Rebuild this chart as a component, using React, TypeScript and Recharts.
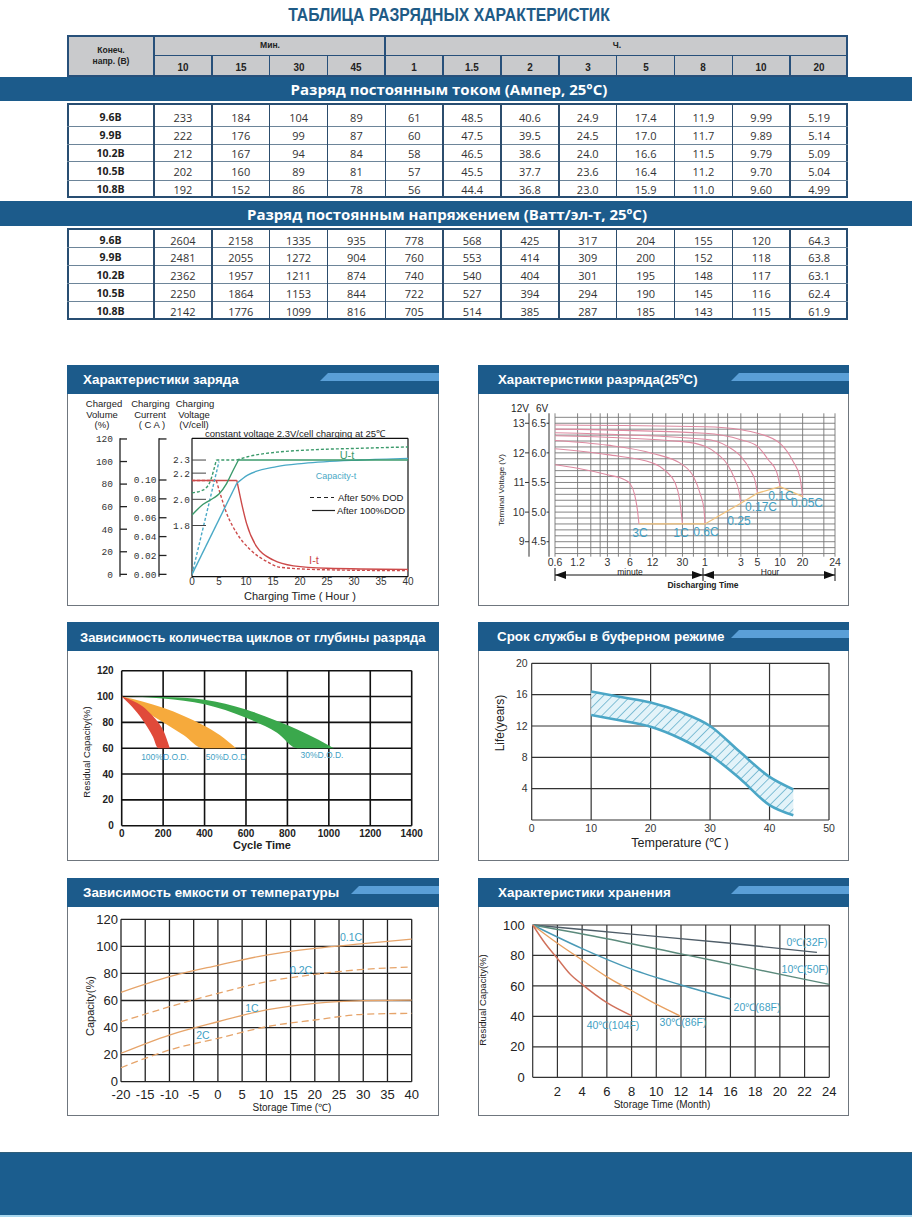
import React from "react";
import { ComposedChart, Line, Area, XAxis, YAxis, CartesianGrid } from "recharts";

type Pt = number[];

const SANS = "'Liberation Sans', Arial, Helvetica, sans-serif";
const OPEN = "'Open Sans', 'Liberation Sans', sans-serif";
const NARROW = "'Liberation Sans Narrow', 'Liberation Sans', sans-serif";
const MONO = "'Liberation Mono', 'DejaVu Sans Mono', monospace";

const NAVY = "#1c5b8b";
const STRIPE = "#5a9fd7";
const CAPTION = "#3f9fc4";

// ---------- discharge table ----------
const minuteCols = ["10", "15", "30", "45"];
const hourCols = ["1", "1.5", "2", "3", "5", "8", "10", "20"];
const endVoltages = ["9.6В", "9.9В", "10.2В", "10.5В", "10.8В"];
const currentRows = [
  ["233", "184", "104", "89", "61", "48.5", "40.6", "24.9", "17.4", "11.9", "9.99", "5.19"],
  ["222", "176", "99", "87", "60", "47.5", "39.5", "24.5", "17.0", "11.7", "9.89", "5.14"],
  ["212", "167", "94", "84", "58", "46.5", "38.6", "24.0", "16.6", "11.5", "9.79", "5.09"],
  ["202", "160", "89", "81", "57", "45.5", "37.7", "23.6", "16.4", "11.2", "9.70", "5.04"],
  ["192", "152", "86", "78", "56", "44.4", "36.8", "23.0", "15.9", "11.0", "9.60", "4.99"],
];
const powerRows = [
  ["2604", "2158", "1335", "935", "778", "568", "425", "317", "204", "155", "120", "64.3"],
  ["2481", "2055", "1272", "904", "760", "553", "414", "309", "200", "152", "118", "63.8"],
  ["2362", "1957", "1211", "874", "740", "540", "404", "301", "195", "148", "117", "63.1"],
  ["2250", "1864", "1153", "844", "722", "527", "394", "294", "190", "145", "116", "62.4"],
  ["2142", "1776", "1099", "816", "705", "514", "385", "287", "185", "143", "115", "61.9"],
];

// ---------- charging (x = hours) ----------
const chgHourTicks = [0, 5, 10, 15, 20, 25, 30, 35, 40];
const chgVoltage100: Pt[][] = [
  [[0, 1.88], [2, 1.96], [4, 2.01], [5, 2.04], [6.4, 2.12], [7.6, 2.22], [8.6, 2.3]],
  [[8.6, 2.3], [40, 2.3]],
];
const chgVoltage50: Pt[][] = [
  [[0, 2.05], [2, 2.07], [3.3, 2.13], [4, 2.22], [4.5, 2.3]],
  [[4.5, 2.3], [8.3, 2.3]],
  [[8.3, 2.3], [10.3, 2.325], [15.7, 2.36], [20.7, 2.375], [31.3, 2.39], [40, 2.4]],
];
const chgCapacity100: Pt[][] = [
  [[0, 0], [8.3, 80.7]],
  [[8.3, 80.7], [10.3, 88], [15.7, 95.5], [20.7, 98.4], [31.3, 101.4], [40, 102.8]],
];
const chgCapacity50: Pt[][] = [[[0, 0], [5, 100]]];
const chgCurrent100: Pt[][] = [
  [[0, 0.0995], [8.3, 0.0995]],
  [[8.3, 0.0995], [9.2, 0.075], [10.1, 0.054], [12, 0.029], [15.1, 0.015], [18.8, 0.009], [25, 0.0065], [40, 0.0053]],
];
const chgCurrent50: Pt[][] = [
  [[0, 0.0995], [4.5, 0.0995]],
  [[4.5, 0.0995], [5.2, 0.086], [6.4, 0.065], [8.3, 0.0435], [10.8, 0.026], [13.9, 0.0135], [16.4, 0.0074], [25, 0.0048], [40, 0.0039]],
];
const VOL_DOMAIN = [-2.1, 120.6];
const CUR_DOMAIN = [-0.0025, 0.1442];
const VOLT_DOMAIN = [1.409, 2.466];

// ---------- discharge (x = minutes, y = volts per 6V block) ----------
const DIS_MAX = 3240;
const disTicks = [0.6, 1.2, 3, 6, 12, 30, 60, 180, 300, 600, 1200, DIS_MAX];
const disTickLabels = ["0.6", "1.2", "3", "6", "12", "30", "1", "3", "5", "10", "20", "24"];
const disGridX = [0.6, 1.2, 1.8, 2.4, 3, 4.2, 6, 12, 18, 30, 42, 60, 90, 120, 180, 300, 600, 1200, 2300, DIS_MAX];
const disGridY = [4.3, 4.4, 4.5, 4.6, 4.7, 4.8, 4.9, 5.0, 5.1, 5.2, 5.3, 5.4, 5.5, 5.6, 5.7, 5.8, 5.9, 6.0, 6.1, 6.2, 6.3, 6.4, 6.5, 6.6];
const dis3C: Pt[] = [[0.6, 5.8], [1.2, 5.74], [3, 5.63], [5, 5.55], [6, 5.48], [6.9, 5.3], [7.5, 5.05], [7.9, 4.8]];
const dis1C: Pt[] = [[0.6, 6.07], [3, 5.97], [12, 5.83], [18, 5.69], [24, 5.49], [27.5, 5.21], [30, 4.8]];
const dis06C: Pt[] = [[0.6, 6.21], [3, 6.13], [12, 5.99], [30, 5.8], [42, 5.6], [52, 5.3], [58, 5.05], [60, 4.8]];
const dis025C: Pt[] = [[0.6, 6.29], [30, 6.19], [60, 6.11], [90, 5.97], [120, 5.8], [150, 5.55], [170, 5.35], [180, 5.15]];
const dis017C: Pt[] = [[0.6, 6.34], [60, 6.23], [120, 6.11], [180, 5.94], [240, 5.71], [280, 5.52], [300, 5.32]];
const dis01C: Pt[] = [[0.6, 6.4], [60, 6.33], [180, 6.22], [300, 6.11], [420, 5.88], [540, 5.68], [600, 5.43]];
const dis005C: Pt[] = [[0.6, 6.47], [60, 6.44], [180, 6.39], [300, 6.33], [600, 6.16], [900, 5.85], [1100, 5.6], [1200, 5.26]];
const disCutoff: Pt[] = [[7.9, 4.8], [60, 4.8], [180, 5.15], [300, 5.32], [600, 5.43], [1200, 5.26]];
const V6_DOMAIN = [4.247, 6.668];
const V12_DOMAIN = [8.494, 13.336];

// ---------- cycle life: [cycles, low, high] ----------
const cycleTicks = [0, 200, 400, 600, 800, 1000, 1200, 1400];
const cycleDod100: Pt[] = [[0, 100, 100], [50, 92, 97], [100, 82, 92.5], [150, 69, 85], [176, 60, 80], [200, 60, 74], [232, 60, 60]];
const cycleDod50: Pt[] = [[0, 100, 100], [100, 90, 96.2], [200, 80, 91.3], [300, 70, 85], [392, 60, 78], [475, 60, 70], [552, 60, 60]];
const cycleDod30: Pt[] = [[0, 100, 100], [200, 98.5, 99.6], [400, 94, 97.6], [600, 83.5, 90], [750, 72, 81], [848, 60, 74.5], [950, 60, 66.5], [1024, 60, 60]];

// ---------- float life: [°C, low, high] ----------
const lifeBand: Pt[] = [[10, 13.4, 16.4], [15, 12.7, 15.7], [20, 11.9, 15], [25, 10.4, 13.8], [30, 8.3, 12], [35, 5.3, 8.7], [40, 1.9, 5.5], [44, 0.6, 3.9]];

// ---------- capacity vs temperature ----------
const tempC = [-20, -10, 0, 10, 20, 30, 40];
const cap01C = [66, 77.6, 86, 93.6, 98.5, 102, 105.4];
const cap02C = [44.3, 55.4, 65.3, 73.9, 79.3, 83, 84.7];
const cap1C = [21, 34.5, 44.3, 53, 57.9, 59.9, 60.3];
const cap2C = [10.3, 23.4, 32, 40.6, 45.6, 49.8, 50.5];

// ---------- storage (x = months) ----------
const stor0: Pt[] = [[0, 100], [8, 94], [16, 88], [23, 82]];
const stor10: Pt[] = [[0, 100], [6, 91], [12, 81], [18, 71], [24, 61]];
const stor20: Pt[] = [[0, 100], [4, 84.5], [8, 71], [12, 60.6], [16, 51.4]];
const stor30: Pt[] = [[0, 100], [2, 88], [4, 77], [6, 66], [8, 57], [10, 48], [12, 40]];
const stor40: Pt[] = [[0, 100], [1, 88], [2, 78], [3, 68], [4, 61], [6, 49], [8, 40.5]];

const xy = (pts: Pt[]) => pts.map(([x, y]) => ({ x, y }));
const band = (pts: Pt[]) => pts.map(([x, lo, hi]) => ({ x, r: [lo, hi] }));
const zip = (xs: number[], ys: number[]) => xs.map((x, i) => ({ x, y: ys[i] }));

const noAnim = { dot: false, activeDot: false, isAnimationActive: false } as const;

function T({ x, y, s = 10, c = "#222", a = "middle", w = 400, f = SANS, r = 0, sx = 1, children }: any) {
  const tx = a === "middle" ? "-50%" : a === "end" ? "-100%" : "0";
  return (
    <div
      style={{
        position: "absolute", left: x, top: y,
        transform: `translate(${tx}, -50%)${r ? ` rotate(${r}deg)` : ""}${sx !== 1 ? ` scaleX(${sx})` : ""}`,
        fontSize: s, color: c, fontWeight: w, fontFamily: f,
        whiteSpace: "nowrap", lineHeight: 1,
      }}
    >
      {children}
    </div>
  );
}

function Rule({ x, y, w, h, c }: any) {
  return <div style={{ position: "absolute", left: x, top: y, width: w, height: h, background: c }} />;
}

// table geometry
const T0 = 67, T1 = 154, TR = 848;
const CW = (TR - T1) / 12;
const cx = (i: number) => T1 + i * CW;
const sec1 = [103.3, 126, 144, 161.7, 180, 197.7];
const sec2 = [228.3, 247.7, 265.7, 283.3, 301.7, 320];

function Section({ bounds, rows }: { bounds: number[]; rows: string[][] }) {
  const top = bounds[0];
  const bottom = bounds[bounds.length - 1];
  return (
    <>
      <div style={{ position: "absolute", left: T0, top, width: TR - T0, height: bottom - top, background: "#fff", boxSizing: "border-box", border: "2px solid #284e72" }} />
      {bounds.slice(1, -1).map((y) => <Rule key={y} x={T0} y={y - 0.5} w={TR - T0} h={1} c="#6d8599" />)}
      {[T1, ...Array.from({ length: 11 }, (_, i) => cx(i + 1))].map((x) => (
        <Rule key={x} x={x - 0.75} y={top} w={1.5} h={bottom - top} c="#2c4d6d" />
      ))}
      {rows.map((r, i) => {
        const cy = (bounds[i] + bounds[i + 1]) / 2 + (i === 0 ? 2 : 0);
        return (
          <React.Fragment key={i}>
            <T x={(T0 + T1) / 2} y={cy} s={10.5} w={700} f={OPEN}>{endVoltages[i]}</T>
            {r.map((v, j) => <T key={j} x={cx(j) + CW / 2} y={cy} s={11} f={OPEN} c="#333">{v}</T>)}
          </React.Fragment>
        );
      })}
    </>
  );
}

function Table() {
  const headCols = [...minuteCols, ...hourCols];
  return (
    <>
      <T x={449} y={14} s={19} w={700} f={NARROW} c="#1f5b86" sx={0.83}>ТАБЛИЦА РАЗРЯДНЫХ ХАРАКТЕРИСТИК</T>
      <div style={{ position: "absolute", left: T0, top: 35, width: TR - T0, height: 42, background: "#c9cacc", boxSizing: "border-box", border: "2px solid #27507a" }} />
      <Rule x={T1 - 1} y={35} w={2} h={42} c="#27507a" />
      <Rule x={cx(4) - 1} y={35} w={2} h={42} c="#27507a" />
      <Rule x={T1} y={54.5} w={TR - T1} h={1.5} c="#27507a" />
      {headCols.map((_, i) => (i > 0 && i !== 4 ? <Rule key={i} x={cx(i) - 0.75} y={55} w={1.5} h={22} c="#27507a" /> : null))}
      <T x={(T0 + T1) / 2} y={50} s={9.5} w={700} f={NARROW} sx={0.9}>Конеч.</T>
      <T x={(T0 + T1) / 2} y={61} s={9.5} w={700} f={NARROW} sx={0.9}>напр. (В)</T>
      <T x={(cx(0) + cx(4)) / 2} y={44.5} s={9.5} w={700} f={NARROW} sx={0.9}>Мин.</T>
      <T x={(cx(4) + TR) / 2} y={44.5} s={9.5} w={700} f={NARROW} sx={0.9}>Ч.</T>
      {headCols.map((c, i) => <T key={c + i} x={cx(i) + CW / 2} y={66.5} s={11} w={700} f={NARROW} c="#222" sx={0.9}>{c}</T>)}
      <Rule x={0} y={76.5} w={912} h={24} c={NAVY} />
      <T x={449} y={88.5} s={15} w={700} f={OPEN} c="#fff">Разряд постоянным током (Ампер, 25°C)</T>
      <Section bounds={sec1} rows={currentRows} />
      <Rule x={0} y={201} w={912} h={24.7} c={NAVY} />
      <T x={447} y={213.5} s={15} w={700} f={OPEN} c="#fff">Разряд постоянным напряжением (Ватт/эл-т, 25ºC)</T>
      <Section bounds={sec2} rows={powerRows} />
    </>
  );
}

function Panel({ x, y, w, h, title, titleX, size = 13.4, stripe }: any) {
  return (
    <div style={{ position: "absolute", left: x, top: y, width: w, height: h, boxSizing: "border-box", border: "1px solid #6f767e", background: "#fff" }}>
      <div style={{ position: "absolute", left: -1, top: -1, width: w, height: 28.5, background: NAVY, overflow: "hidden" }}>
        {stripe !== undefined && (
          <div style={{ position: "absolute", left: stripe - x, top: 7.7, width: w, height: 8, background: STRIPE, transform: "skewX(-45deg)", transformOrigin: "0 100%" }} />
        )}
        <div style={{ position: "absolute", left: titleX, top: 14.5, transform: "translateY(-50%)", color: "#fff", fontFamily: SANS, fontWeight: 700, fontSize: size, whiteSpace: "nowrap", lineHeight: 1 }}>
          {title}
        </div>
      </div>
    </div>
  );
}

const GREEN = "#3b9a6b";
const TEAL = "#4aa9c6";
const RED = "#cc4a4a";

// left y-axes are stacked by id: "a_" sits next to the plot, "c_" furthest out
function ChargeChart() {
  const mono = { fontSize: 9.5, fill: "#333", fontFamily: MONO };
  const seg = (segs: Pt[][], axis: string, color: string, dash: string | undefined, name: string) =>
    segs.map((s, i) => (
      <Line key={name + i} yAxisId={axis} data={xy(s)} dataKey="y" type={s.length > 2 ? "monotone" : "linear"}
        stroke={color} strokeWidth={1.4} strokeDasharray={dash} {...noAnim} />
    ));
  return (
    <div style={{ position: "absolute", left: 67, top: 430 }}>
      <ComposedChart width={352} height={166} margin={{ top: 8.3, right: 11, bottom: 0, left: 0 }}>
        <CartesianGrid yAxisId="c_vol" verticalValues={[0, 40]} horizontalValues={VOL_DOMAIN} stroke="#111" strokeWidth={1.2} />
        <XAxis type="number" dataKey="x" domain={[0, 40]} ticks={chgHourTicks} interval={0} height={19.3}
          axisLine={false} tickLine={false} tickSize={0} tickMargin={1.5} allowDataOverflow
          tick={{ fontSize: 10, fill: "#333", fontFamily: SANS }} />
        <YAxis yAxisId="a_volt" type="number" width={33} domain={VOLT_DOMAIN} ticks={[1.8, 2.0, 2.2, 2.3]} interval={0}
          allowDataOverflow axisLine={false} tickLine={{ stroke: "#444" }} tickSize={-14} tickMargin={16}
          tick={mono} tickFormatter={(v: number) => v.toFixed(1)} />
        <YAxis yAxisId="b_cur" type="number" width={39} domain={CUR_DOMAIN} ticks={[0, 0.02, 0.04, 0.06, 0.08, 0.1, 0.1435]}
          interval={0} allowDataOverflow axisLine={{ stroke: "#222", strokeWidth: 1.3 }} tickLine={{ stroke: "#222", strokeWidth: 1.3 }}
          tickSize={-7.5} tickMargin={10} tick={mono} tickFormatter={(v: number) => (v > 0.11 ? "" : v.toFixed(2))} />
        <YAxis yAxisId="c_vol" type="number" width={53} domain={VOL_DOMAIN} ticks={[0, 20, 40, 60, 80, 100, 120]}
          interval={0} allowDataOverflow axisLine={{ stroke: "#222", strokeWidth: 1.3 }} tickLine={{ stroke: "#222", strokeWidth: 1.3 }}
          tickSize={-7} tickMargin={14} tick={mono} />
        {seg(chgCurrent50, "b_cur", RED, "3 2", "i50")}
        {seg(chgCurrent100, "b_cur", RED, undefined, "i100")}
        {seg(chgCapacity50, "c_vol", TEAL, "3 2", "c50")}
        {seg(chgCapacity100, "c_vol", TEAL, undefined, "c100")}
        {seg(chgVoltage50, "a_volt", GREEN, "3 2", "u50")}
        {seg(chgVoltage100, "a_volt", GREEN, undefined, "u100")}
      </ComposedChart>
    </div>
  );
}

const PINK = "#de8aa1";

function DischargeChart() {
  const tick = { fontSize: 10.5, fill: "#333", fontFamily: SANS };
  const curves = [dis3C, dis1C, dis06C, dis025C, dis017C, dis01C, dis005C];
  return (
    <div style={{ position: "absolute", left: 478, top: 403 }}>
      <ComposedChart width={371} height={168} margin={{ top: 10.3, right: 14, bottom: 0, left: 0 }}>
        <CartesianGrid yAxisId="b_v6" verticalValues={disGridX} horizontalValues={disGridY} stroke="#777" strokeWidth={0.9} />
        <XAxis type="number" dataKey="x" scale="log" domain={[0.6, DIS_MAX]} ticks={disTicks} interval={0} height={14.3}
          allowDataOverflow axisLine={false} tickLine={false} tickSize={0} tickMargin={1.8} tick={tick}
          tickFormatter={(v: number) => disTickLabels[disTicks.indexOf(v)] ?? ""} />
        <YAxis yAxisId="a_pad" width={6} domain={V6_DOMAIN} tick={false} axisLine={false} tickLine={false} />
        <YAxis yAxisId="b_v6" type="number" width={20} domain={V6_DOMAIN} ticks={[4.5, 5, 5.5, 6, 6.5]} interval={0}
          allowDataOverflow axisLine={{ stroke: "#333" }} tickLine={{ stroke: "#333" }} tickSize={2.5} tickMargin={0.5}
          tick={tick} tickFormatter={(v: number) => v.toFixed(1)} />
        <YAxis yAxisId="c_v12" type="number" width={51} domain={V12_DOMAIN} ticks={[9, 10, 11, 12, 13]} interval={0}
          allowDataOverflow axisLine={{ stroke: "#333" }} tickLine={{ stroke: "#333" }} tickSize={4} tickMargin={0.5} tick={tick} />
        {curves.map((c, i) => (
          <Line key={i} yAxisId="b_v6" data={xy(c)} dataKey="y" type="monotone" stroke={PINK} strokeWidth={1.1} {...noAnim} />
        ))}
        <Line yAxisId="b_v6" data={xy(disCutoff)} dataKey="y" type="linear" stroke="#f1c27c" strokeWidth={1.3} {...noAnim} />
      </ComposedChart>
    </div>
  );
}

function CycleChart() {
  const tick = { fontSize: 10, fill: "#222", fontWeight: 700, fontFamily: SANS };
  return (
    <div style={{ position: "absolute", left: 67, top: 660 }}>
      <ComposedChart width={362} height={186} margin={{ top: 10.7, right: 17.3, bottom: 0, left: 0 }}>
        <CartesianGrid stroke="#111" strokeWidth={1.6} />
        <XAxis type="number" dataKey="x" domain={[0, 1400]} ticks={cycleTicks} interval={0} height={20.3}
          axisLine={false} tickLine={false} tickSize={0} tickMargin={4} tick={tick} />
        <YAxis type="number" domain={[0, 120]} ticks={[0, 20, 40, 60, 80, 100, 120]} interval={0} width={54.7}
          axisLine={false} tickLine={false} tick={tick} />
        <Area data={band(cycleDod30)} dataKey="r" type="monotone" fill="#3aa84c" fillOpacity={1} stroke="none" {...noAnim} />
        <Area data={band(cycleDod50)} dataKey="r" type="monotone" fill="#f6aa3c" fillOpacity={1} stroke="none" {...noAnim} />
        <Area data={band(cycleDod100)} dataKey="r" type="monotone" fill="#e04a3a" fillOpacity={1} stroke="none" {...noAnim} />
      </ComposedChart>
    </div>
  );
}

function LifeChart() {
  const tick = { fontSize: 10.5, fill: "#333", fontFamily: SANS };
  return (
    <div style={{ position: "absolute", left: 478, top: 655 }}>
      <ComposedChart width={371} height={185} margin={{ top: 8.3, right: 20, bottom: 0, left: 0 }}>
        <defs>
          <pattern id="hatch" width="6.5" height="6.5" patternUnits="userSpaceOnUse" patternTransform="rotate(45)">
            <rect width="6.5" height="6.5" fill="#e3f3f9" />
            <line x1="0" y1="0" x2="0" y2="6.5" stroke="#3f9dbf" strokeWidth="1.2" />
          </pattern>
        </defs>
        <CartesianGrid stroke="#333" strokeWidth={1.2} />
        <XAxis type="number" dataKey="x" domain={[0, 50]} ticks={[0, 10, 20, 30, 40, 50]} interval={0} height={20}
          axisLine={false} tickLine={false} tickSize={0} tickMargin={4.5} tick={tick} />
        <YAxis type="number" domain={[0, 20]} ticks={[0, 4, 8, 12, 16, 20]} interval={0} width={53.7}
          axisLine={false} tickLine={false} tickSize={0} tickMargin={4} tick={tick}
          tickFormatter={(v: number) => (v === 0 ? "" : String(v))} />
        <Area data={band(lifeBand)} dataKey="r" type="monotone" fill="url(#hatch)" fillOpacity={1}
          stroke="#4ba6c6" strokeWidth={2.6} {...noAnim} />
      </ComposedChart>
    </div>
  );
}

const ORANGE = "#e6a46a";

function TempChart() {
  const tick = { fontSize: 13, fill: "#222", fontFamily: SANS };
  return (
    <div style={{ position: "absolute", left: 67, top: 910 }}>
      <ComposedChart width={362} height={198} margin={{ top: 9.3, right: 17.3, bottom: 0, left: 0 }}>
        <CartesianGrid stroke="#222" strokeWidth={1.3} />
        <XAxis type="number" dataKey="x" domain={[-20, 40]} ticks={[-20, -15, -10, -5, 0, 5, 10, 15, 20, 25, 30, 35, 40]}
          interval={0} height={26.3} axisLine={false} tickLine={false} tickSize={0} tickMargin={8} tick={tick} />
        <YAxis type="number" domain={[0, 120]} ticks={[0, 20, 40, 60, 80, 100, 120]} interval={0} width={54}
          axisLine={false} tickLine={false} tickSize={0} tickMargin={3} tick={tick} />
        <Line data={zip(tempC, cap01C)} dataKey="y" type="monotone" stroke={ORANGE} strokeWidth={1.3} {...noAnim} />
        <Line data={zip(tempC, cap02C)} dataKey="y" type="monotone" stroke={ORANGE} strokeWidth={1.3} strokeDasharray="7 4" {...noAnim} />
        <Line data={zip(tempC, cap1C)} dataKey="y" type="monotone" stroke={ORANGE} strokeWidth={1.3} {...noAnim} />
        <Line data={zip(tempC, cap2C)} dataKey="y" type="monotone" stroke={ORANGE} strokeWidth={1.3} strokeDasharray="7 4" {...noAnim} />
      </ComposedChart>
    </div>
  );
}

function StorageChart() {
  const tick = { fontSize: 13, fill: "#222", fontFamily: SANS };
  const series: [Pt[], string][] = [
    [stor0, "#4f5d68"],
    [stor10, "#5b8a7c"],
    [stor20, "#4a9ab6"],
    [stor30, "#e8a060"],
    [stor40, "#d0705a"],
  ];
  return (
    <div style={{ position: "absolute", left: 478, top: 915 }}>
      <ComposedChart width={378} height={190} margin={{ top: 10, right: 26.7, bottom: 0, left: 0 }}>
        <CartesianGrid stroke="#333" strokeWidth={1.2} />
        <XAxis type="number" dataKey="x" domain={[0, 24]} ticks={[0, 2, 4, 6, 8, 10, 12, 14, 16, 18, 20, 22, 24]}
          interval={0} height={27.7} axisLine={false} tickLine={false} tickSize={0} tickMargin={9.5} tick={tick}
          tickFormatter={(v: number) => (v === 0 ? "" : String(v))} />
        <YAxis type="number" domain={[0, 100]} ticks={[0, 20, 40, 60, 80, 100]} interval={0} width={54.7}
          axisLine={false} tickLine={false} tick={tick} />
        {series.map(([d, c], i) => (
          <Line key={i} data={xy(d)} dataKey="y" type="monotone" stroke={c} strokeWidth={1.4} {...noAnim} />
        ))}
      </ComposedChart>
    </div>
  );
}

function Decor() {
  const k = "#111";
  return (
    <svg width={912} height={1217} style={{ position: "absolute", left: 0, top: 0, pointerEvents: "none" }}>
      <line x1={310} y1={497.5} x2={334} y2={497.5} stroke="#222" strokeWidth={1.2} strokeDasharray="4 3" />
      <line x1={312} y1={510.5} x2={335} y2={510.5} stroke="#222" strokeWidth={1.2} />
      <line x1={555} y1={575} x2={835} y2={575} stroke={k} />
      <polygon points="555,575 566,571 566,579" fill={k} />
      <polygon points="703,575 692,571 692,579" fill={k} />
      <polygon points="703,575 714,571 714,579" fill={k} />
      <polygon points="835,575 824,571 824,579" fill={k} />
      {[555, 703, 835].map((x) => <line key={x} x1={x} y1={568} x2={x} y2={581} stroke={k} />)}
    </svg>
  );
}

export default function App() {
  return (
    <div style={{ position: "absolute", left: 0, top: 0, width: 912, height: 1217, background: "#fff", overflow: "hidden", fontFamily: SANS }}>
      <Table />

      <Panel x={67} y={365} w={372} h={241} title="Характеристики заряда" titleX={16} stripe={320} />
      <Panel x={478} y={365} w={371} h={241} title="Характеристики разряда(25ºC)" titleX={20} size={13.2} stripe={731} />
      <Panel x={67} y={622} w={372} h={239} title="Зависимость количества циклов от глубины разряда" titleX={13} size={13} />
      <Panel x={478} y={622} w={371} h={239} title="Срок службы в буферном режиме" titleX={19} stripe={731} />
      <Panel x={67} y={878} w={372} h={238} title="Зависимость емкости от температуры" titleX={16} stripe={351} />
      <Panel x={478} y={878} w={371} h={238} title="Характеристики хранения" titleX={20} stripe={731} />

      <ChargeChart />
      <DischargeChart />
      <CycleChart />
      <LifeChart />
      <TempChart />
      <StorageChart />

      {/* charging labels */}
      <T x={104} y={403.5} s={9.5}>Charged</T>
      <T x={102} y={414.5} s={9.5}>Volume</T>
      <T x={102} y={424.5} s={9.5}>(%)</T>
      <T x={150.5} y={403.5} s={9.5}>Charging</T>
      <T x={150} y={414.5} s={9.5}>Current</T>
      <T x={152} y={424.5} s={9.5}>( C A )</T>
      <T x={195} y={403.5} s={9.5}>Charging</T>
      <T x={194} y={414.5} s={9.5}>Voltage</T>
      <T x={194} y={424.5} s={9.5}>(V/cell)</T>
      <T x={205} y={434} s={9.5} a="start">constant voltage 2.3V/cell charging at 25℃</T>
      <T x={347} y={455} s={11} c={GREEN}>U-t</T>
      <T x={336} y={476} s={9} c={TEAL}>Capacity-t</T>
      <T x={314} y={560} s={11} c={RED}>I-t</T>
      <T x={338} y={497.5} s={9.5} a="start">After 50% DOD</T>
      <T x={337} y={510.5} s={9.5} a="start">After 100%DOD</T>
      <T x={300} y={596} s={11}>Charging Time ( Hour )</T>

      {/* discharge labels */}
      <T x={520} y={408.5} s={10}>12V</T>
      <T x={542} y={408.5} s={10}>6V</T>
      <T x={502} y={490} s={8} r={-90}>Terminal Voltage (V)</T>
      <T x={640} y={533} s={12} c={CAPTION}>3C</T>
      <T x={681} y={533} s={12} c={CAPTION}>1C</T>
      <T x={706} y={532} s={12} c={CAPTION}>0.6C</T>
      <T x={739} y={521} s={12} c={CAPTION}>0.25</T>
      <T x={761} y={507} s={12} c={CAPTION}>0.17C</T>
      <T x={781} y={496} s={12} c={CAPTION}>0.1C</T>
      <T x={807} y={503} s={12} c={CAPTION}>0.05C</T>
      <T x={630} y={571.5} s={8.5}>minute</T>
      <T x={770} y={571.5} s={8.5}>Hour</T>
      <T x={703} y={584.5} s={8.5} w={700}>Discharging Time</T>

      {/* cycle labels */}
      <T x={87} y={752} s={9.5} r={-90}>Residual Capacity(%)</T>
      <T x={262} y={845} s={11} w={700}>Cycle Time</T>
      <T x={165} y={757} s={8.5} c={CAPTION}>100%D.O.D.</T>
      <T x={226} y={757} s={8.5} c={CAPTION}>50%D.O.D</T>
      <T x={322} y={755} s={8.5} c={CAPTION}>30%D.O.D.</T>

      {/* life labels */}
      <T x={500} y={723} s={12} r={-90}>Life(years)</T>
      <T x={680} y={843} s={12.5}>Temperature (℃ )</T>

      {/* temperature labels */}
      <T x={90} y={1006} s={11} r={-90}>Capacity(%)</T>
      <T x={292} y={1107.5} s={10}>Storage Time (℃)</T>
      <T x={351} y={937} s={10.5} c={CAPTION}>0.1C</T>
      <T x={301} y={970} s={10.5} c={CAPTION}>0.2C</T>
      <T x={252} y={1008} s={10.5} c={CAPTION}>1C</T>
      <T x={203} y={1035} s={10.5} c={CAPTION}>2C</T>

      {/* storage labels */}
      <T x={483} y={1000} s={9.5} r={-90}>Residual Capacity(%)</T>
      <T x={662} y={1105} s={10}>Storage Time (Month)</T>
      <T x={807} y={942} s={10.5} c={CAPTION}>0℃(32F)</T>
      <T x={805} y={969} s={10.5} c={CAPTION}>10℃(50F)</T>
      <T x={757} y={1007} s={10.5} c={CAPTION}>20℃(68F)</T>
      <T x={683} y={1022} s={10.5} c={CAPTION}>30℃(86F)</T>
      <T x={613} y={1025} s={10.5} c={CAPTION}>40℃(104F)</T>

      <Decor />

      <div style={{ position: "absolute", left: 0, top: 1152, width: 912, height: 62, background: "#1b5d8e", borderTop: "1px solid #2f5e7a", borderBottom: "2px solid #a9d8ef" }} />
    </div>
  );
}
